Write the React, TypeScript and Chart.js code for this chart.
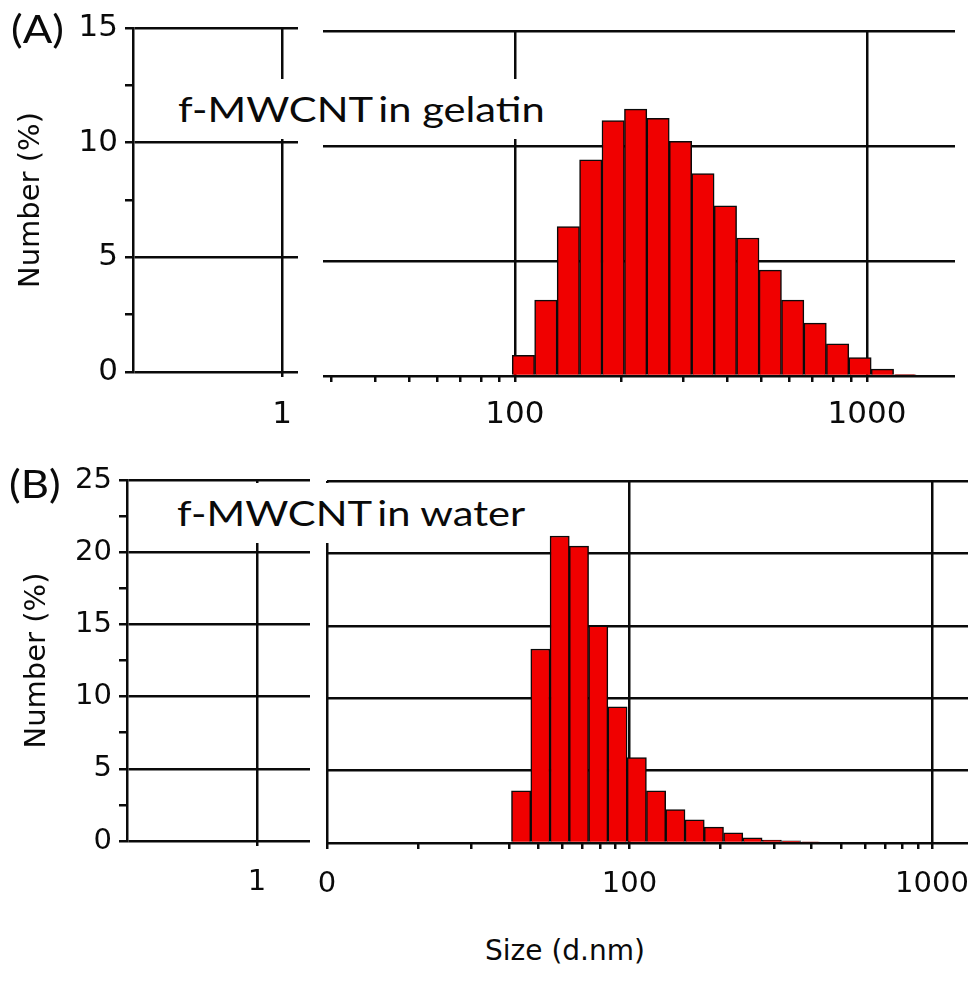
import React, { useEffect, useRef } from "react";
import { Chart, registerables } from "chart.js";

Chart.register(...registerables);

// ---- Data ----
// Panel A: f-MWCNT in gelatin (size class centres, nm)
const sizeClassesA = [105.7, 122.4, 141.8, 164.2, 190.1, 220.2, 255.0, 295.3, 342.0, 396.1, 458.7, 531.2, 615.1, 712.4, 825.0, 955.4, 1106, 1281];
const numberA = [0.9, 3.3, 6.5, 9.4, 11.1, 11.6, 11.2, 10.2, 8.8, 7.4, 6.0, 4.6, 3.3, 2.3, 1.4, 0.8, 0.3, 0.06];
// Panel B: f-MWCNT in water
const sizeClassesB = [43.82, 50.75, 58.77, 68.06, 78.82, 91.28, 105.7, 122.4, 141.8, 164.2, 190.1, 220.2, 255.0, 295.3, 342.0, 396.1];
const numberB = [3.6, 13.4, 21.2, 20.5, 15.0, 9.4, 5.9, 3.6, 2.3, 1.6, 1.1, 0.7, 0.35, 0.2, 0.15, 0.08];

// Axis ticks
const yMaxA = 15;
const yMaxB = 25;
const leftTickValues = [1];
const leftTickLabels = ["1"];
const majorTicksA = [100, 1000];
const majorLabelsA = ["100", "1000"];
const minorTicksA = [30, 40, 50, 60, 70, 80, 90, 200, 300, 400, 500, 600, 700, 800, 900];
const majorTicksB = [10, 100, 1000];
const majorLabelsB = ["0", "100", "1000"];
const minorTicksB = [20, 30, 40, 50, 60, 70, 80, 90, 200, 300, 400, 500, 600, 700, 800, 900];

// Axis ranges of the broken-axis segments
const leftRangeA = [0.1, 1.28];
const rightRangeA = [28.5, 1778];
const leftRangeB = [0.1, 2.56];
const rightRangeB = [10, 1315];

const INK = "#0a0a0a";
const RED = "#f00000";
const LW = 2.5;
const SANS = "'DejaVu Sans', Verdana, sans-serif";
const tickFontA = { family: SANS, size: 31 };
const tickFontB = { family: SANS, size: 29 };
const titleFont = { family: SANS, size: 29 };

const zeroPad = (s: any) => {
  s.paddingLeft = 0;
  s.paddingRight = 0;
  s.paddingTop = 0;
  s.paddingBottom = 0;
};

function leftConfig(opts: any): any {
  const { yMax, range, canvasH, top, bottom, left, titlePad, xPad, font } = opts;
  return {
    type: "bar",
    data: { datasets: [] },
    options: {
      responsive: false,
      animation: false,
      layout: { padding: { left: 0, right: 2, top, bottom: 0 } },
      plugins: { legend: { display: false }, tooltip: { enabled: false } },
      scales: {
        x: {
          type: "logarithmic",
          position: "bottom",
          min: range[0],
          max: range[1],
          offset: false,
          afterBuildTicks: (s: any) => {
            s.ticks = leftTickValues.map((v) => ({ value: v }));
          },
          ticks: {
            autoSkip: false,
            maxRotation: 0,
            padding: xPad,
            color: INK,
            font,
            callback: (v: any) => {
              const i = leftTickValues.indexOf(Number(v));
              return i >= 0 ? leftTickLabels[i] : "";
            },
          },
          grid: { offset: false, color: INK, lineWidth: LW, tickLength: 5 },
          border: { display: false },
          afterFit: (s: any) => {
            s.height = canvasH - bottom;
            zeroPad(s);
          },
        },
        y: {
          type: "linear",
          position: "left",
          min: 0,
          max: yMax,
          ticks: {
            stepSize: 2.5,
            maxTicksLimit: 20,
            autoSkip: false,
            padding: 7,
            color: INK,
            font,
            callback: (v: any) => (Number(v) % 5 === 0 ? String(v) : ""),
          },
          grid: {
            color: (c: any) => (c.tick && c.tick.value % 5 === 0 ? INK : "rgba(0,0,0,0)"),
            tickColor: INK,
            lineWidth: LW,
            tickLength: 8,
          },
          border: { display: true, color: INK, width: LW },
          title: {
            display: true,
            text: "Number (%)",
            color: INK,
            font: titleFont,
            padding: { top: titlePad, bottom: 0 },
          },
          afterFit: (s: any) => {
            s.width = left;
            zeroPad(s);
          },
        },
      },
    },
  };
}

function rightConfig(opts: any): any {
  const { yMax, range, canvasH, top, bottom, left, right, sizes, values, majors, majorLabels, minors, xPad, font } = opts;
  const all = [...majors, ...minors].sort((a: number, b: number) => a - b);
  return {
    type: "bar",
    data: {
      datasets: [
        {
          data: sizes.map((s: number, i: number) => ({ x: s, y: values[i] })),
          xAxisID: "x",
          yAxisID: "y",
          backgroundColor: RED,
          borderColor: INK,
          borderWidth: 1.5,
          barPercentage: 1,
          categoryPercentage: 1,
        },
      ],
    },
    options: {
      responsive: false,
      animation: false,
      layout: { padding: { left, right, top, bottom: 0 } },
      plugins: { legend: { display: false }, tooltip: { enabled: false } },
      scales: {
        x: {
          type: "logarithmic",
          display: false,
          min: range[0],
          max: range[1],
          offset: false,
          grid: { offset: false },
          afterBuildTicks: (s: any) => {
            s.ticks = [];
          },
        },
        xAxis: {
          type: "logarithmic",
          position: "bottom",
          min: range[0],
          max: range[1],
          offset: false,
          afterBuildTicks: (s: any) => {
            s.ticks = all.map((v: number) => ({ value: v }));
          },
          ticks: {
            autoSkip: false,
            maxRotation: 0,
            padding: xPad,
            color: INK,
            font,
            callback: (v: any) => {
              const i = majors.indexOf(Number(v));
              return i >= 0 ? majorLabels[i] : "";
            },
          },
          grid: {
            offset: false,
            color: (c: any) => (c.tick && majors.includes(c.tick.value) ? INK : "rgba(0,0,0,0)"),
            tickColor: INK,
            lineWidth: LW,
            tickLength: 6,
          },
          border: { display: false },
          afterFit: (s: any) => {
            s.height = canvasH - bottom;
            zeroPad(s);
          },
        },
        y: {
          type: "linear",
          position: "left",
          min: 0,
          max: yMax,
          ticks: { display: false, stepSize: 5 },
          grid: { color: INK, lineWidth: LW, drawTicks: false },
          border: { display: false },
          afterFit: (s: any) => {
            s.width = 0;
            zeroPad(s);
          },
        },
      },
    },
  };
}

const labelFont = "Lato, 'Open Sans', sans-serif";

export default function App() {
  const aLeft = useRef<HTMLCanvasElement>(null);
  const aRight = useRef<HTMLCanvasElement>(null);
  const bLeft = useRef<HTMLCanvasElement>(null);
  const bRight = useRef<HTMLCanvasElement>(null);

  useEffect(() => {
    const charts: Chart[] = [];
    charts.push(
      new Chart(aLeft.current as HTMLCanvasElement, leftConfig({ yMax: yMaxA, range: leftRangeA, canvasH: 440, top: 28, bottom: 372, left: 133, titlePad: 14, xPad: 19, font: tickFontA }))
    );
    charts.push(
      new Chart(
        aRight.current as HTMLCanvasElement,
        rightConfig({ yMax: yMaxA, range: rightRangeA, canvasH: 440, top: 31, bottom: 376, left: 23, right: 15, sizes: sizeClassesA, values: numberA, majors: majorTicksA, majorLabels: majorLabelsA, minors: minorTicksA, xPad: 14, font: tickFontA })
      )
    );
    charts.push(
      new Chart(bLeft.current as HTMLCanvasElement, leftConfig({ yMax: yMaxB, range: leftRangeB, canvasH: 470, top: 40, bottom: 401, left: 127, titlePad: 20, xPad: 19, font: tickFontB }))
    );
    charts.push(
      new Chart(
        bRight.current as HTMLCanvasElement,
        rightConfig({ yMax: yMaxB, range: rightRangeB, canvasH: 470, top: 41, bottom: 403, left: 15, right: 2, sizes: sizeClassesB, values: numberB, majors: majorTicksB, majorLabels: majorLabelsB, minors: minorTicksB, xPad: 18, font: tickFontB })
      )
    );
    return () => charts.forEach((c) => c.destroy());
  }, []);

  const abs = (l: number, t: number, w: number, h: number): React.CSSProperties => ({ position: "absolute", left: l, top: t, width: w, height: h });
  const stretched: React.CSSProperties = {
    position: "absolute",
    fontFamily: labelFont,
    color: INK,
    whiteSpace: "nowrap",
    transformOrigin: "0 0",
  };

  return (
    <div style={{ position: "absolute", left: 0, top: 0, width: 970, height: 1004, background: "#fff", overflow: "hidden" }}>
      <canvas ref={aLeft} width={300} height={440} style={abs(0, 0, 300, 440)} />
      <canvas ref={aRight} width={670} height={440} style={abs(300, 0, 670, 440)} />
      <canvas ref={bLeft} width={312} height={470} style={abs(0, 440, 312, 470)} />
      <canvas ref={bRight} width={658} height={470} style={abs(312, 440, 658, 470)} />

      <div style={{ ...abs(160, 79, 390, 60), background: "#fff" }} />
      <div style={{ ...stretched, left: 178, top: 88, fontSize: 35, lineHeight: "40px", transform: "scaleX(1.19)" }}>
        {"f-MWCNT\u2009in gelatin"}
      </div>
      <div style={{ ...abs(160, 483, 370, 60), background: "#fff" }} />
      <div style={{ ...stretched, left: 177, top: 492, fontSize: 35, lineHeight: "40px", transform: "scaleX(1.19)" }}>
        {"f-MWCNT\u2009in water"}
      </div>

      <div style={{ ...stretched, left: 11, top: 9, fontSize: 38, lineHeight: "38px", transform: "scaleX(1.15)" }}>(A)</div>
      <div style={{ ...stretched, left: 9, top: 464, fontSize: 38, lineHeight: "38px", transform: "scaleX(1.15)" }}>(B)</div>

      <div style={{ position: "absolute", left: 485, top: 934, fontFamily: SANS, fontSize: 28, lineHeight: "34px", color: INK, whiteSpace: "nowrap" }}>
        Size (d.nm)
      </div>
    </div>
  );
}
